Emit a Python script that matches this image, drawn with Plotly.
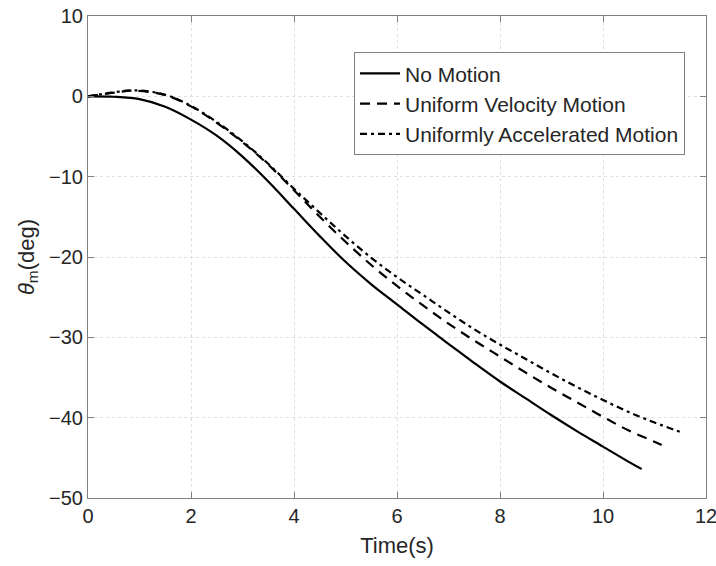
import plotly.graph_objects as go

# Time samples (s) and angle values (deg) for each motion case
t_no_motion = [0, 0.5, 1, 1.5, 2, 2.5, 3, 3.5, 4, 4.5, 5, 5.5, 6, 6.5, 7, 7.5,
               8, 8.5, 9, 9.5, 10, 10.5, 10.75]
theta_no_motion = [0, -0.05, -0.35, -1.3, -2.9, -4.9, -7.5, -10.6, -14.0, -17.4,
                   -20.6, -23.4, -25.9, -28.4, -30.8, -33.2, -35.5, -37.6, -39.7,
                   -41.7, -43.6, -45.5, -46.4]

t_uniform_vel = [0, 0.5, 0.9, 1.5, 2, 2.5, 3, 3.5, 4, 4.5, 5, 5.5, 6, 6.5, 7, 7.5,
                 8, 8.5, 9, 9.5, 10, 10.5, 11, 11.2]
theta_uniform_vel = [0, 0.45, 0.7, 0.15, -1.25, -3.3, -5.7, -8.5, -11.7, -15.0,
                     -18.1, -21.0, -23.6, -26.0, -28.3, -30.4, -32.4, -34.4, -36.3,
                     -38.1, -39.9, -41.6, -43.0, -43.6]

t_uniform_acc = [0, 0.5, 0.9, 1.5, 2, 2.5, 3, 3.5, 4, 4.5, 5, 5.5, 6, 6.5, 7, 7.5,
                 8, 8.5, 9, 9.5, 10, 10.5, 11, 11.55]
theta_uniform_acc = [0, 0.5, 0.75, 0.2, -1.2, -3.2, -5.6, -8.4, -11.5, -14.5,
                     -17.4, -20.1, -22.5, -24.7, -26.9, -29.0, -30.9, -32.7, -34.5,
                     -36.2, -37.8, -39.3, -40.6, -41.9]

x_ticks = [0, 2, 4, 6, 8, 10, 12]
y_ticks = [10, 0, -10, -20, -30, -40, -50]

FONT = "Liberation Sans, Arial, sans-serif"
AXIS_GRAY = "#808080"
TEXT = "#262626"

fig = go.Figure()
fig.add_trace(go.Scatter(x=t_no_motion, y=theta_no_motion, mode="lines",
                         name="No Motion",
                         line=dict(color="black", width=2.2, shape="spline", smoothing=1.0)))
fig.add_trace(go.Scatter(x=t_uniform_vel, y=theta_uniform_vel, mode="lines",
                         name="Uniform Velocity Motion",
                         line=dict(color="black", width=2.2, dash="10px,7px",
                                   shape="spline", smoothing=1.0)))
fig.add_trace(go.Scatter(x=t_uniform_acc, y=theta_uniform_acc, mode="lines",
                         name="Uniformly Accelerated Motion",
                         line=dict(color="black", width=2.2, dash="7px,4px,3px,4px",
                                   shape="spline", smoothing=1.0)))

axis_common = dict(
    showline=True, linecolor=AXIS_GRAY, linewidth=1.2, mirror="ticks",
    ticks="inside", ticklen=6, tickcolor=AXIS_GRAY, tickwidth=1,
    showgrid=True, gridcolor="#dedede", griddash="dot", gridwidth=1,
    zeroline=False, tickfont=dict(family=FONT, size=20, color=TEXT),
    ticklabeloverflow="allow", automargin=False,
)

fig.update_xaxes(range=[0, 12], tickvals=x_ticks, **axis_common,
                 title=dict(text="Time(s)", font=dict(family=FONT, size=22, color=TEXT),
                            standoff=11))
fig.update_yaxes(range=[-50, 10], tickvals=y_ticks, **axis_common,
                 title=dict(text="<i>θ</i><sub>m</sub>(deg)",
                            font=dict(family=FONT, size=22, color=TEXT), standoff=8))

fig.update_layout(
    width=716, height=566,
    margin=dict(l=88, r=10, t=16, b=68),
    plot_bgcolor="white", paper_bgcolor="white",
    font=dict(family=FONT, color=TEXT),
    legend=dict(x=0.966, xanchor="right", y=0.925, yanchor="top",
                bgcolor="white", bordercolor=AXIS_GRAY, borderwidth=1,
                font=dict(family=FONT, size=21, color=TEXT),
                tracegroupgap=0, itemwidth=40),
    showlegend=True,
)

fig.write_html("out.html")
